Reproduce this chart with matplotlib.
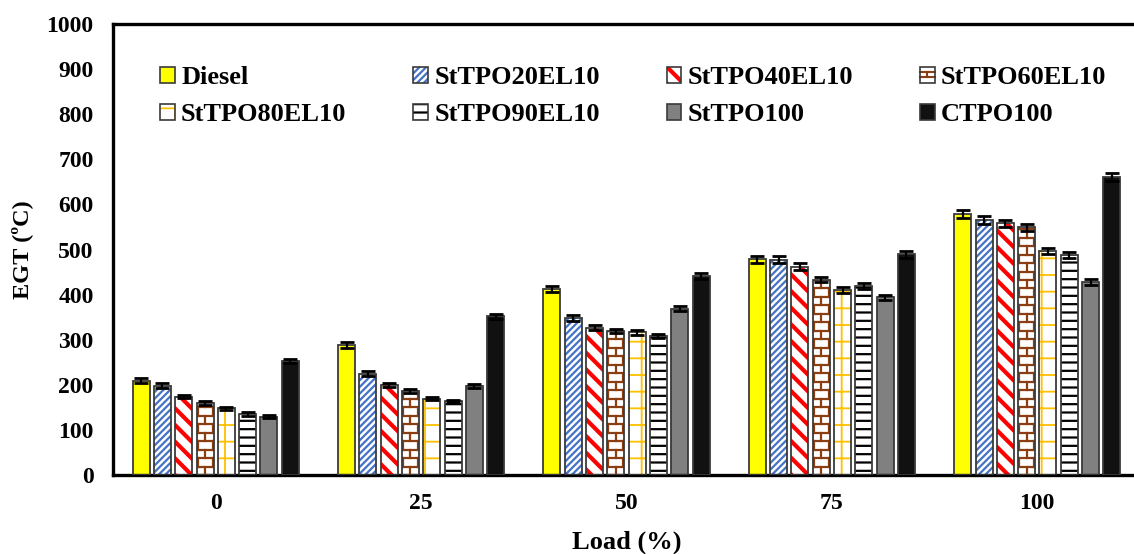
import matplotlib
matplotlib.use("Agg")
import matplotlib.pyplot as plt
from matplotlib.patches import Rectangle
from matplotlib.lines import Line2D
import numpy as np

# ---- data -------------------------------------------------------------
loads = ["0", "25", "50", "75", "100"]
series_names = ["Diesel", "StTPO20EL10", "StTPO40EL10", "StTPO60EL10",
                "StTPO80EL10", "StTPO90EL10", "StTPO100", "CTPO100"]

diesel = [209, 288, 412, 478, 579]
sttpo20el10 = [198, 225, 348, 477, 566]
sttpo40el10 = [174, 199, 327, 462, 558]
sttpo60el10 = [159, 186, 319, 433, 549]
sttpo80el10 = [148, 169, 316, 410, 496]
sttpo90el10 = [135, 164, 308, 419, 488]
sttpo100 = [129, 197, 369, 394, 428]
ctpo100 = [253, 352, 441, 489, 661]

diesel_err = [6, 6, 7, 8, 9]
sttpo20el10_err = [5, 5, 7, 8, 9]
sttpo40el10_err = [4, 4, 6, 7, 8]
sttpo60el10_err = [4, 4, 5, 6, 8]
sttpo80el10_err = [3, 3, 5, 6, 7]
sttpo90el10_err = [4, 3, 5, 6, 7]
sttpo100_err = [3, 4, 6, 6, 7]
ctpo100_err = [5, 6, 7, 7, 9]

yticks = list(range(0, 1001, 100))

values = [diesel, sttpo20el10, sttpo40el10, sttpo60el10,
          sttpo80el10, sttpo90el10, sttpo100, ctpo100]
errors = [diesel_err, sttpo20el10_err, sttpo40el10_err, sttpo60el10_err,
          sttpo80el10_err, sttpo90el10_err, sttpo100_err, ctpo100_err]

# ---- styles -----------------------------------------------------------
EDGE = "#3a3a3a"
styles = [
    dict(face="#FFFF00"),
    dict(face="white", hatch="/////", hcolor="#4472C4", hlw=1.6),
    dict(face="white", hatch="\\\\", hcolor="#FF0000", hlw=3.0),
    dict(face="white", brick=True, hcolor="#8B3E12"),
    dict(face="white", hatch="+", hcolor="#FFC000", hlw=1.3),
    dict(face="white", hatch="--", hcolor="black", hlw=1.6),
    dict(face="#808080"),
    dict(face="#111111"),
]

FONT = ["Liberation Serif", "DejaVu Serif"]
plt.rcParams["font.family"] = FONT
plt.rcParams["font.weight"] = "bold"

fig = plt.figure(figsize=(11.34, 5.54), dpi=100)
ax = fig.add_axes([113 / 1134, 79 / 554, 1027 / 1134, 451 / 554])

x = np.arange(len(loads))
pitch = 0.1037
width = 0.083
BRICK_STEP = 18.8  # brick course height in value units


def hatched_bars(xpos, vals, st):
    """Draw a filled/hatched bar layer without its outline."""
    if "hatch" in st:
        bars = ax.bar(xpos, vals, width, facecolor=st["face"],
                      edgecolor=st["hcolor"], hatch=st["hatch"],
                      linewidth=0, zorder=2)
        for b in bars:
            if hasattr(b, "set_hatch_linewidth"):
                b.set_hatch_linewidth(st["hlw"])
    else:
        bars = ax.bar(xpos, vals, width, facecolor=st["face"],
                      linewidth=0, zorder=2)
    return bars


def brick_lines(bar, color):
    x0 = bar.get_x()
    w = bar.get_width()
    h = bar.get_height()
    n = int(h // BRICK_STEP) + 1
    for k in range(n + 1):
        yk = k * BRICK_STEP
        ln = Line2D([x0, x0 + w], [yk, yk], color=color, lw=1.6,
                    zorder=3, solid_capstyle="butt")
        ax.add_line(ln)
        ln.set_clip_path(bar)
        if k % 2 == 0:
            xs = [x0 + w / 2]
        else:
            xs = [x0 + w * 0.06, x0 + w * 0.94]
        for xv in xs:
            vl = Line2D([xv, xv], [yk, yk + BRICK_STEP], color=color,
                        lw=1.6, zorder=3)
            ax.add_line(vl)
            vl.set_clip_path(bar)


for i, (vals, errs, st) in enumerate(zip(values, errors, styles)):
    xpos = x + (i - 3.5) * pitch
    bars = hatched_bars(xpos, vals, st)
    if st.get("brick"):
        for b in bars:
            brick_lines(b, st["hcolor"])
    ax.bar(xpos, vals, width, fill=False, edgecolor=EDGE, linewidth=1.3,
           zorder=4)
    ax.errorbar(xpos, vals, yerr=errs, fmt="none", ecolor="black",
                elinewidth=1.6, capsize=5, capthick=2.0, zorder=5)

ax.set_xlim(-0.5, 4.5)
ax.set_ylim(0, 1000)
ax.set_xticks(x)
ax.set_xticklabels(loads)
ax.set_yticks(yticks)
ax.tick_params(length=0, labelsize=17)
ax.tick_params(axis="y", pad=14)
ax.tick_params(axis="x", pad=13)
for lab in ax.get_xticklabels() + ax.get_yticklabels():
    lab.set_fontweight("bold")

for side in ["left", "bottom", "top"]:
    ax.spines[side].set_linewidth(2.4)
    ax.spines[side].set_color("black")
ax.spines["right"].set_visible(False)

ax.set_xlabel("Load (%)", fontsize=19, fontweight="bold", labelpad=12)
ax.set_ylabel("EGT (ºC)", fontsize=17.5, fontweight="bold", labelpad=10)


# ---- legend -----------------------------------------------------------
class SwatchHandler:
    def __init__(self, st):
        self.st = st

    def legend_artist(self, legend, orig_handle, fontsize, handlebox):
        st = self.st
        x0, y0 = -handlebox.xdescent, -handlebox.ydescent
        w, h = handlebox.width, handlebox.height
        tr = handlebox.get_transform()
        kw = dict(transform=tr)
        if "hatch" in st:
            base = Rectangle((x0, y0), w, h, facecolor=st["face"],
                             edgecolor=st["hcolor"], hatch=st["hatch"],
                             linewidth=0, **kw)
            if hasattr(base, "set_hatch_linewidth"):
                base.set_hatch_linewidth(st["hlw"])
        else:
            base = Rectangle((x0, y0), w, h, facecolor=st["face"],
                             linewidth=0, **kw)
        handlebox.add_artist(base)
        if st.get("brick"):
            c = st["hcolor"]
            for yy in (y0 + h / 3, y0 + 2 * h / 3):
                handlebox.add_artist(Line2D([x0, x0 + w], [yy, yy], color=c,
                                            lw=1.5, transform=tr))
            handlebox.add_artist(Line2D([x0 + w / 2, x0 + w / 2],
                                        [y0 + h / 3, y0 + 2 * h / 3],
                                        color=c, lw=1.5, transform=tr))
        outline = Rectangle((x0, y0), w, h, fill=False, edgecolor=EDGE,
                            linewidth=1.2, **kw)
        handlebox.add_artist(outline)
        return base


proxies = [Rectangle((0, 0), 1, 1) for _ in series_names]
order = [0, 4, 1, 5, 2, 6, 3, 7]
handler_map = {proxies[i]: SwatchHandler(styles[i]) for i in range(8)}
ax.legend([proxies[i] for i in order], [series_names[i] for i in order],
          handler_map=handler_map, ncol=4, frameon=False,
          loc="upper left", bbox_to_anchor=(160 / 1134, 1 - 66 / 554),
          bbox_transform=fig.transFigure, borderpad=0, borderaxespad=0,
          prop=dict(family=FONT, weight="bold", size=19),
          handlelength=0.55, handleheight=0.55, handletextpad=0.25,
          columnspacing=2.53, labelspacing=0.53)

fig.savefig("out.png", dpi=100)
